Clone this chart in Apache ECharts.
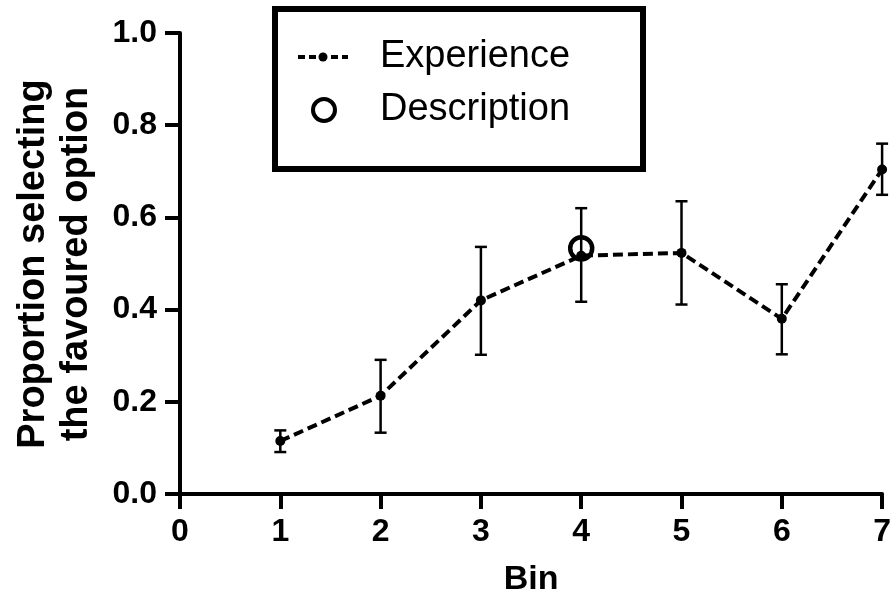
<!DOCTYPE html>
<html>
<head>
<meta charset="utf-8">
<script src="https://cdn.jsdelivr.net/npm/echarts@6/dist/echarts.min.js"></script>
<style>
  html, body { margin: 0; padding: 0; background: #fff; }
  #chart { width: 894px; height: 602px; }
</style>
</head>
<body>
<div id="chart"></div>
<script>
// Bins on the x axis
const bins = [1, 2, 3, 4, 5, 6, 7];
// Experience condition: mean proportion and error bar bounds per bin
const experience = [0.115, 0.213, 0.420, 0.517, 0.523, 0.380, 0.704];
const errLow = [0.091, 0.133, 0.302, 0.417, 0.411, 0.303, 0.649];
const errHigh = [0.138, 0.291, 0.536, 0.620, 0.635, 0.455, 0.760];
// Description condition: single point
const descriptionBin = [4];
const description = [0.533];

const FONT = "'Liberation Sans', Arial, Helvetica, sans-serif";

const chart = echarts.init(document.getElementById('chart'), null, { renderer: 'canvas' });

const expData = bins.map((b, i) => [b, experience[i]]);
const errData = bins.map((b, i) => [b, errLow[i], errHigh[i]]);
const descData = descriptionBin.map((b, i) => [b, description[i]]);

const axisCommon = {
  axisLine: { show: true, lineStyle: { color: '#000', width: 4 } },
  axisTick: { show: true, inside: false, length: 15, lineStyle: { color: '#000', width: 4 } },
  splitLine: { show: false },
  axisLabel: { color: '#000', fontFamily: FONT, fontWeight: 'bold', fontSize: 32 }
};

chart.setOption({
  animation: false,
  backgroundColor: '#fff',
  grid: { left: 180, right: 7.5, top: 33, bottom: 106.5, containLabel: false },
  xAxis: Object.assign({}, axisCommon, {
    type: 'value', min: 0, max: 7, interval: 1,
    name: 'Bin', nameLocation: 'middle', nameGap: 69,
    nameTextStyle: { color: '#000', fontFamily: FONT, fontWeight: 'bold', fontSize: 34 },
    axisLabel: Object.assign({}, axisCommon.axisLabel, { margin: 22 })
  }),
  yAxis: Object.assign({}, axisCommon, {
    type: 'value', min: 0, max: 1, interval: 0.2,
    axisLabel: Object.assign({}, axisCommon.axisLabel, {
      margin: 23,
      formatter: v => v.toFixed(1)
    })
  }),
  graphic: [
    // rotated two-line y axis title
    {
      type: 'text', x: 55, y: 264, rotation: Math.PI / 2,
      style: {
        text: 'Proportion selecting\nthe favoured option',
        font: 'bold 38px ' + FONT, fill: '#000',
        align: 'center', verticalAlign: 'middle', lineHeight: 43
      }
    },
    // legend box
    {
      type: 'rect', shape: { x: 275, y: 9, width: 368, height: 160 },
      style: { fill: '#fff', stroke: '#000', lineWidth: 6 }, z: 10
    },
    {
      type: 'line', shape: { x1: 298, y1: 57, x2: 348, y2: 57 },
      style: { stroke: '#000', lineWidth: 4, lineDash: [7, 4] }, z: 11
    },
    {
      type: 'circle', shape: { cx: 323, cy: 57, r: 4.5 },
      style: { fill: '#000' }, z: 11
    },
    {
      type: 'text', x: 380, y: 57,
      style: { text: 'Experience', font: '38px ' + FONT, fill: '#000', verticalAlign: 'middle' }, z: 11
    },
    {
      type: 'circle', shape: { cx: 324, cy: 110, r: 11 },
      style: { fill: '#fff', stroke: '#000', lineWidth: 4 }, z: 11
    },
    {
      type: 'text', x: 380, y: 110,
      style: { text: 'Description', font: '38px ' + FONT, fill: '#000', verticalAlign: 'middle' }, z: 11
    }
  ],
  series: [
    {
      name: 'Error',
      type: 'custom',
      clip: false,
      data: errData,
      z: 3,
      renderItem: function (params, api) {
        const x = api.value(0);
        const lo = api.coord([x, api.value(1)]);
        const hi = api.coord([x, api.value(2)]);
        const cap = 6;
        const style = { stroke: '#000', lineWidth: 2.5 };
        return {
          type: 'group',
          children: [
            { type: 'line', shape: { x1: lo[0], y1: lo[1], x2: hi[0], y2: hi[1] }, style: style },
            { type: 'line', shape: { x1: hi[0] - cap, y1: hi[1], x2: hi[0] + cap, y2: hi[1] }, style: style },
            { type: 'line', shape: { x1: lo[0] - cap, y1: lo[1], x2: lo[0] + cap, y2: lo[1] }, style: style }
          ]
        };
      }
    },
    {
      name: 'Experience',
      type: 'line',
      data: expData,
      clip: false,
      z: 4,
      symbol: 'circle',
      symbolSize: 10,
      itemStyle: { color: '#000', opacity: 1 },
      lineStyle: { color: '#000', width: 4, type: [10, 5] }
    },
    {
      name: 'Description',
      type: 'scatter',
      data: descData,
      z: 5,
      symbol: 'circle',
      symbolSize: 22,
      itemStyle: { color: 'rgba(0,0,0,0)', borderColor: '#000', borderWidth: 4.5, opacity: 1 }
    }
  ]
});
</script>
</body>
</html>
